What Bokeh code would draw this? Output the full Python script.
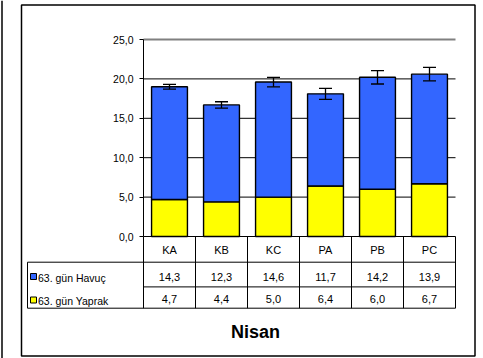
from bokeh.plotting import figure
from bokeh.models import LinearAxis, FixedTicker, Range1d, Whisker, TeeHead, ColumnDataSource
from bokeh.core.properties import value
from bokeh.embed import file_html
from bokeh.resources import INLINE

# ---- data ----
categories = ["KA", "KB", "KC", "PA", "PB", "PC"]
havuc = [14.3, 12.3, 14.6, 11.7, 14.2, 13.9]
yaprak = [4.7, 4.4, 5.0, 6.4, 6.0, 6.7]
errors = [0.3, 0.4, 0.6, 0.7, 0.85, 0.85]
series_names = ["63. gün Havuç", "63. gün Yaprak"]
yticks = [0, 5, 10, 15, 20, 25]
title = "Nisan"

BLUE = "#3366FF"
YELLOW = "#FFFF00"
FONT = "Liberation Sans"

# ---- layout constants (px -> data units) ----
PX_X = 52.0      # px per category
PX_Y = 7.88      # px per value unit
X0_PAGE = 143.0  # page x of category 0 start
Y0_PAGE = 236.0  # page y of value 0
W, H = 483, 358
OX, OY = 0, 0    # page offset of canvas

def xd(px):
    return (px - X0_PAGE) / PX_X

def yd(py):
    return (Y0_PAGE - py) / PX_Y

p = figure(width=W, height=H, output_backend="svg", toolbar_location=None,
           x_axis_type=None, y_axis_type=None,
           x_range=Range1d(xd(OX), xd(OX + W)),
           y_range=Range1d(yd(OY + H), yd(OY)),
           min_border=0, outline_line_color=None,
           background_fill_color="white", border_fill_color="white")
p.xgrid.visible = False
p.ygrid.visible = False

n = len(categories)
xs = [i + 0.5 for i in range(n)]
totals = [a + b for a, b in zip(yaprak, havuc)]

# gridlines
gy = [t for t in yticks if 0 < t < yticks[-1]]
p.segment(x0=[0] * len(gy), x1=[n] * len(gy), y0=gy, y1=gy, line_color="black", line_width=1)
p.segment(x0=[0], x1=[n], y0=[yticks[-1]], y1=[yticks[-1]], line_color="#808080", line_width=2)

# bars
p.vbar(x=xs, width=0.69, bottom=0, top=yaprak, fill_color=YELLOW, line_color="black", line_width=1.4)
p.vbar(x=xs, width=0.69, bottom=yaprak, top=totals, fill_color=BLUE, line_color="black", line_width=1.4)

# error bars
src = ColumnDataSource(dict(x=xs, up=[t + e for t, e in zip(totals, errors)],
                            lo=[t - e for t, e in zip(totals, errors)]))
wh = Whisker(base="x", upper="up", lower="lo", source=src, line_color="black", line_width=1.3,
             upper_head=TeeHead(size=13, line_width=1.3, line_color="black"),
             lower_head=TeeHead(size=13, line_width=1.3, line_color="black"),
             level="overlay")
p.add_layout(wh)

# y axis
ax = LinearAxis(fixed_location=0, bounds=(0, yticks[-1]), ticker=FixedTicker(ticks=yticks),
                major_label_overrides={t: f"{t:.1f}".replace(".", ",") for t in yticks},
                major_tick_out=4, major_tick_in=0, minor_tick_out=0, minor_tick_in=0,
                major_label_standoff=6, axis_line_color="black", major_tick_line_color="black",
                major_label_text_font=FONT, major_label_text_font_size="10.5px",
                major_label_text_color="black")
p.add_layout(ax, "left")

# ---- data table ----
r1, r2, r3 = yd(261.7), yd(286.4), yd(307.7)
tl = xd(27)
# horizontal lines
p.segment(x0=[0, tl, 0, tl], x1=[n, n, n, n], y0=[0, r1, r2, r3], y1=[0, r1, r2, r3],
          line_color="black", line_width=1)
# vertical lines
vx = list(range(n + 1))
p.segment(x0=vx, x1=vx, y0=[0] * len(vx), y1=[r3] * len(vx), line_color="black", line_width=1)
p.segment(x0=[tl], x1=[tl], y0=[r1], y1=[r3], line_color="black", line_width=1)

txt = dict(text_font=value(FONT), text_font_size="11px", text_color="black",
           text_baseline="middle")
p.text(x=xs, y=[yd(249.5)] * n, text=categories, text_align="center", **txt)
p.text(x=xs, y=[yd(276)] * n, text=[f"{v:.1f}".replace(".", ",") for v in havuc],
       text_align="center", **txt)
p.text(x=xs, y=[yd(298.5)] * n, text=[f"{v:.1f}".replace(".", ",") for v in yaprak],
       text_align="center", **txt)

# legend keys
ly = [yd(276), yd(299.5)]
p.scatter(x=[xd(33)] * 2, y=ly, marker="square", size=6, fill_color=[BLUE, YELLOW],
          line_color="black", line_width=1)
p.text(x=[xd(37.5)] * 2, y=[yd(277), yd(300)], text=series_names, text_align="left",
       text_font=value(FONT), text_font_size="10.5px", text_color="black", text_baseline="middle")

# title
p.text(x=[xd(255)], y=[yd(331)], text=[title], text_align="center", text_baseline="middle",
       text_font=value(FONT), text_font_size="18px", text_font_style="bold", text_color="black")

# outer frame and left edge line
p.quad(left=[xd(21)], right=[xd(474.5)], top=[yd(4.5)], bottom=[yd(355.5)],
       fill_color=None, line_color="black", line_width=1.5)
p.segment(x0=[xd(1.5)], x1=[xd(1.5)], y0=[yd(0)], y1=[yd(H)], line_color="black", line_width=1.5)

open("out.html", "w").write(file_html(p, INLINE))
